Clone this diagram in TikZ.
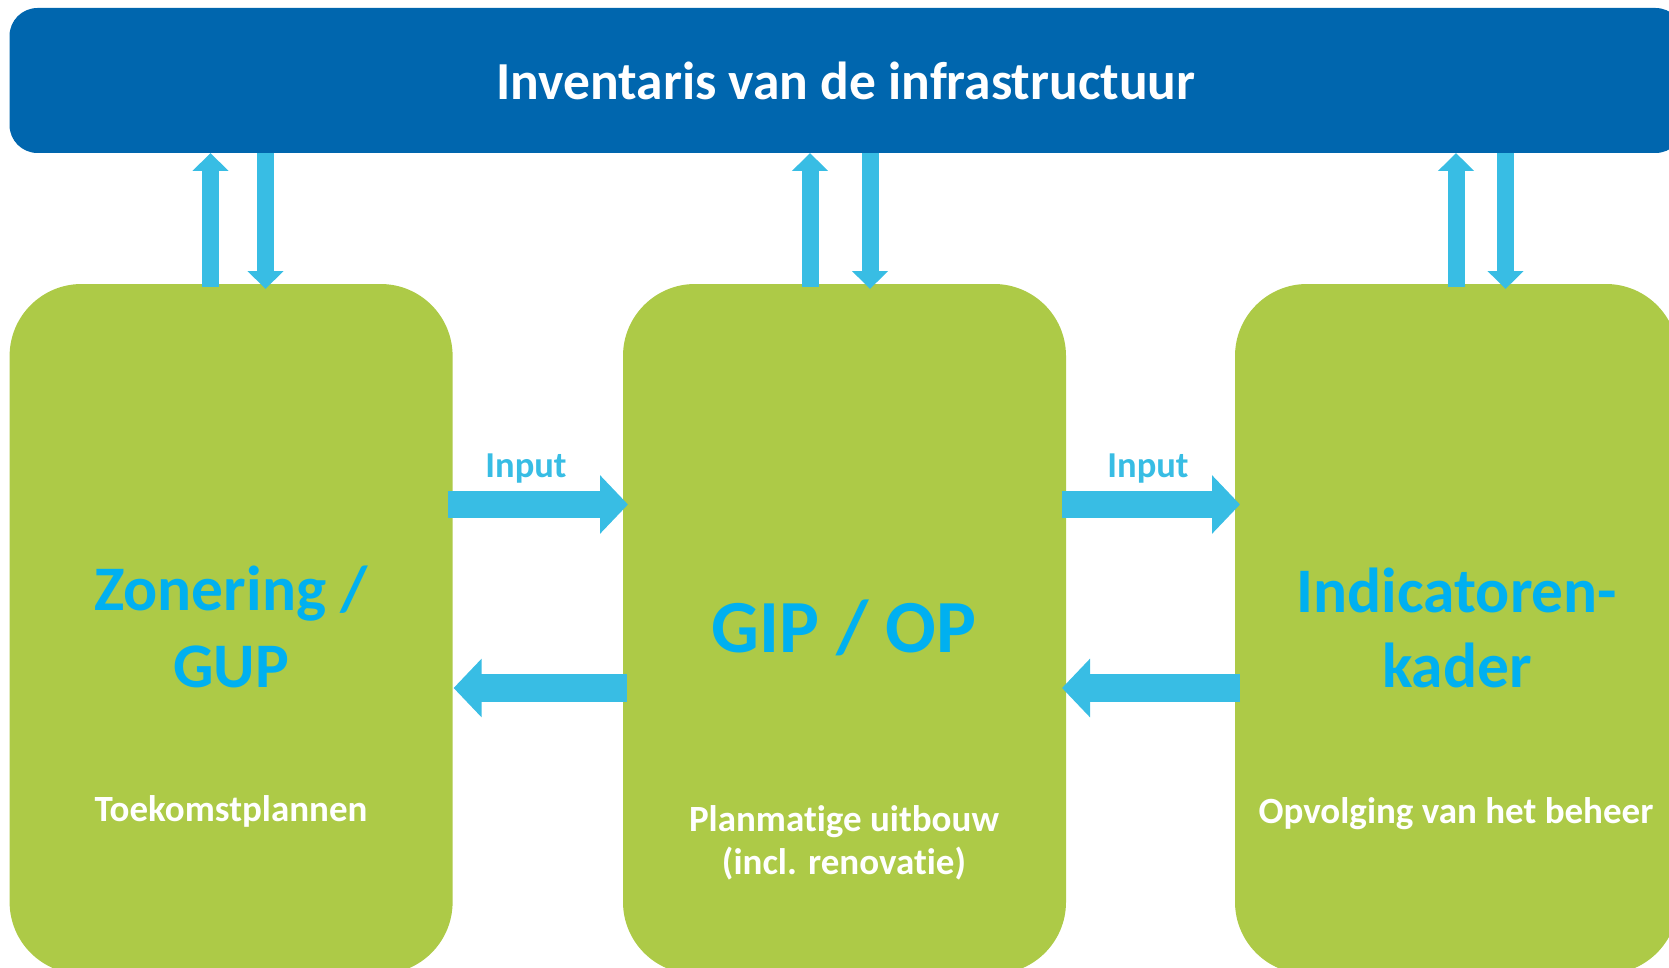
\documentclass[tikz,border=0pt]{standalone}
\usepackage{fontspec}
\setmainfont{Carlito}[Ligatures={NoCommon}]
\usetikzlibrary{arrows.meta,calc}
\definecolor{barblue}{HTML}{0066AE}
\definecolor{boxgreen}{HTML}{ADCA47}
\definecolor{arrowblue}{HTML}{38BDE4}
\definecolor{labelblue}{HTML}{00B0F0}
\begin{document}
\begin{tikzpicture}[x=1pt,y=-1pt,
  topbar/.style={fill=barblue, rounded corners=28pt, inner sep=0pt, outer sep=0pt, anchor=north west},
  greenbox/.style={fill=boxgreen, rounded corners=72pt, inner sep=0pt, outer sep=0pt, anchor=north west, minimum width=443pt, minimum height=690pt},
  vflow/.style={draw=arrowblue, line width=17pt, -{Triangle[width=35pt,length=18pt]}},
  hflow/.style={draw=arrowblue, line width=27.5pt, -{Triangle[width=57pt,length=28pt]}},
  titletext/.style={text=white, anchor=base, inner sep=0pt, font=\fontsize{53.5pt}{60pt}\selectfont\bfseries},
  inputtext/.style={text=arrowblue, anchor=base, inner sep=0pt, font=\fontsize{36.5pt}{40pt}\selectfont\bfseries},
  bigtext/.style={text=labelblue, anchor=base, inner sep=0pt, font=\fontsize{63.5pt}{70pt}\selectfont\bfseries},
  hugetext/.style={text=labelblue, anchor=base, inner sep=0pt, font=\fontsize{75pt}{80pt}\selectfont\bfseries},
  subtext/.style={text=white, anchor=base, inner sep=0pt, font=\fontsize{37pt}{42pt}\selectfont\bfseries}
]
\useasboundingbox (0,0) rectangle (1669,968);
\clip (0,0) rectangle (1669,968);

% top bar
\node[topbar, minimum width=1674pt, minimum height=145pt] (bar) at (9.5,8) {};
\node[titletext] (title) at (846,100) {Inventaris van de infrastructuur};

% green boxes
\node[greenbox] (box1) at (9.6,284) {};
\node[greenbox] (box2) at (623,284) {};
\node[greenbox] (box3) at (1235,284) {};

% x positions of vertical arrows
\coordinate (u1) at (210.5,0);
\coordinate (d1) at (265.5,0);
\coordinate (u2) at (810,0);
\coordinate (d2) at (870,0);
\coordinate (u3) at (1456,0);
\coordinate (d3) at (1505.5,0);

\draw[vflow] ($(box1.north -| u1)+(0,3)$) -- (bar.south -| u1);
\draw[vflow] (bar.south -| d1) -- ($(box1.north -| d1)+(0,5)$);
\draw[vflow] ($(box2.north -| u2)+(0,3)$) -- (bar.south -| u2);
\draw[vflow] (bar.south -| d2) -- ($(box2.north -| d2)+(0,5)$);
\draw[vflow] ($(box3.north -| u3)+(0,3)$) -- (bar.south -| u3);
\draw[vflow] (bar.south -| d3) -- ($(box3.north -| d3)+(0,5)$);

% y positions of horizontal arrows
\coordinate (ry) at (0,504.5);
\coordinate (ly) at (0,688);

\draw[hflow] ($(box1.east |- ry)+(-5,0)$) -- ($(box2.west |- ry)+(5,0)$);
\draw[hflow] ($(box2.west |- ly)+(4,0)$) -- ($(box1.east |- ly)+(1,0)$);
\draw[hflow] ($(box2.east |- ry)+(-4,0)$) -- ($(box3.west |- ry)+(5,0)$);
\draw[hflow] ($(box3.west |- ly)+(5,0)$) -- ($(box2.east |- ly)+(-4,0)$);

\node[inputtext] (in1) at (526,477) {Input};
\node[inputtext] (in2) at (1148,477) {Input};

% box texts
\node[bigtext] (zon) at (231,610) {Zonering /};
\node[bigtext] (gup) at (231,687) {GUP};
\node[subtext] (toek) at (231,821) {Toekomstplannen};

\node[hugetext] (gip) at (844,652) {GIP / OP};
\node[subtext] (plan) at (844,831) {Planmatige uitbouw};
\node[subtext] (incl) at (844,874) {(incl. renovatie)};

\node[bigtext] (ind) at (1457,612) {Indicatoren-};
\node[bigtext] (kad) at (1457,687) {kader};
\node[subtext] (opv) at (1456,823) {Opvolging van het beheer};
\end{tikzpicture}
\end{document}
